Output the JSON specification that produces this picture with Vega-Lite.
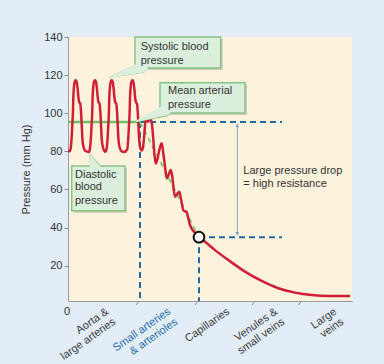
{
  "$schema": "https://vega.github.io/schema/vega-lite/v6.json",
  "width": 284,
  "height": 264,
  "autosize": "none",
  "padding": {"left": 68, "top": 37, "right": 32, "bottom": 63},
  "background": "#e2edf7",
  "config": {
    "view": {"stroke": null, "fill": "#fdf3dd"},
    "font": "Liberation Sans",
    "axis": {"labelFont": "Liberation Sans", "titleFont": "Liberation Sans", "grid": false}
  },
  "encoding": {
    "x": {"field": "x", "type": "quantitative", "scale": {"domain": [0, 284], "nice": false, "zero": false},
      "axis": {"title": null, "labels": false, "ticks": false, "domainColor": "#9a9a9a"}},
    "y": {"field": "y", "type": "quantitative", "scale": {"domain": [1.5, 140], "nice": false, "zero": false},
      "axis": {"title": "Pressure (mm Hg)", "values": [20, 40, 60, 80, 100, 120, 140], "tickSize": 4, "labelPadding": 2,
        "labelFontSize": 11, "labelColor": "#333333", "tickColor": "#8a8a8a", "domainColor": "#9a9a9a",
        "titleFontSize": 11, "titleFontWeight": "normal", "titleColor": "#333333", "titlePadding": 12}}
  },
  "layer": [
    {
      "data": {"values": [
        {"x": 0, "y": 80}, {"x": 1.5, "y": 80}, {"x": 2.5, "y": 81}, {"x": 3.6, "y": 87}, {"x": 4.3, "y": 94}, {"x": 4.9, "y": 100}, {"x": 5.3, "y": 108}, {"x": 5.9, "y": 113.5}, {"x": 6.7, "y": 116.5}, {"x": 7.7, "y": 117.3}, {"x": 8.7, "y": 116.5}, {"x": 9.6, "y": 113}, {"x": 10.4, "y": 108.5}, {"x": 11.2, "y": 105.8}, {"x": 12.2, "y": 105}, {"x": 13, "y": 101}, {"x": 13.7, "y": 94}, {"x": 14.5, "y": 86}, {"x": 15.7, "y": 82}, {"x": 17.3, "y": 80.2}, {"x": 21, "y": 79.7},
        {"x": 21.8, "y": 81}, {"x": 22.9, "y": 87}, {"x": 23.6, "y": 94}, {"x": 24.2, "y": 100}, {"x": 24.6, "y": 108}, {"x": 25.2, "y": 113.5}, {"x": 26, "y": 116.5}, {"x": 27, "y": 117.3}, {"x": 28, "y": 116.5}, {"x": 28.9, "y": 113}, {"x": 29.7, "y": 108.5}, {"x": 30.5, "y": 105.8}, {"x": 31.5, "y": 105}, {"x": 32.3, "y": 101}, {"x": 33, "y": 94}, {"x": 33.8, "y": 86}, {"x": 35, "y": 82}, {"x": 36.4, "y": 80.2}, {"x": 37.5, "y": 79.8},
        {"x": 38.5, "y": 81}, {"x": 39.6, "y": 87}, {"x": 40.3, "y": 94}, {"x": 40.9, "y": 100}, {"x": 41.3, "y": 108}, {"x": 41.9, "y": 113.5}, {"x": 42.7, "y": 116.5}, {"x": 43.7, "y": 117.3}, {"x": 44.7, "y": 116.5}, {"x": 45.6, "y": 113}, {"x": 46.4, "y": 108.5}, {"x": 47.2, "y": 105.8}, {"x": 48.2, "y": 105}, {"x": 49, "y": 101}, {"x": 49.7, "y": 94}, {"x": 50.5, "y": 86}, {"x": 51.7, "y": 82}, {"x": 53.3, "y": 80.2}, {"x": 56, "y": 79.7},
        {"x": 59.2, "y": 81}, {"x": 60.3, "y": 87}, {"x": 61, "y": 94}, {"x": 61.6, "y": 100}, {"x": 62, "y": 108}, {"x": 62.6, "y": 113.5}, {"x": 63.4, "y": 116.5}, {"x": 64.4, "y": 117.3}, {"x": 65.4, "y": 116.5}, {"x": 66.3, "y": 113}, {"x": 67.1, "y": 108.5}, {"x": 67.9, "y": 105.8}, {"x": 68.9, "y": 105}, {"x": 69.7, "y": 101}, {"x": 70.4, "y": 94}, {"x": 71.2, "y": 86}, {"x": 72.2, "y": 82}, {"x": 73.7, "y": 80.4}, {"x": 75, "y": 82},
        {"x": 76.5, "y": 90}, {"x": 77.7, "y": 97}, {"x": 79.7, "y": 95.6}, {"x": 82.7, "y": 97.3}, {"x": 84, "y": 94}, {"x": 85.5, "y": 85}, {"x": 86.5, "y": 78}, {"x": 87.7, "y": 73.7}, {"x": 89, "y": 75}, {"x": 91, "y": 80}, {"x": 93.7, "y": 84.2}, {"x": 95.3, "y": 79}, {"x": 97, "y": 72}, {"x": 98.7, "y": 65.9}, {"x": 100.5, "y": 67.5}, {"x": 102.7, "y": 70.2}, {"x": 104.5, "y": 66}, {"x": 105.5, "y": 61}, {"x": 107, "y": 56.2}, {"x": 109, "y": 57.5}, {"x": 111.3, "y": 58.8}, {"x": 113, "y": 55}, {"x": 115.3, "y": 49.2}, {"x": 117, "y": 48.5}, {"x": 118.7, "y": 48.3}, {"x": 120, "y": 45.5}, {"x": 122, "y": 41.4}, {"x": 125, "y": 38.5}, {"x": 128.7, "y": 36.5}, {"x": 131, "y": 34.9},
        {"x": 137, "y": 32.6}, {"x": 147, "y": 28.2}, {"x": 160.3, "y": 23}, {"x": 177, "y": 16.9}, {"x": 193.7, "y": 12}, {"x": 210.3, "y": 8.2}, {"x": 227, "y": 5.9}, {"x": 243.7, "y": 4.6}, {"x": 260.3, "y": 4.1}, {"x": 282, "y": 4.1}
      ]},
      "layer": [
        {
          "data": {"values": [
            {"x": 72, "y": 95.4, "x2": 214, "y2": 95.4},
            {"x": 72, "y": 95.4, "x2": 72, "y2": 1.5},
            {"x": 131, "y": 35, "x2": 214, "y2": 35},
            {"x": 131, "y": 35, "x2": 131, "y2": 1.5}
          ]},
          "mark": {"type": "rule", "color": "#2268a3", "strokeWidth": 2, "strokeDash": [6, 4]},
          "encoding": {"x2": {"field": "x2"}, "y2": {"field": "y2"}}
        },
        {
          "data": {"values": [{"x": 0, "y": 95.4, "x2": 72, "y2": 95.4}]},
          "mark": {"type": "rule", "color": "#6cc26c", "strokeWidth": 2.5},
          "encoding": {"x2": {"field": "x2"}, "y2": {"field": "y2"}}
        },
        {
          "data": {"values": [{"x": 72, "y": 95.4, "x2": 131, "y2": 35}]},
          "mark": {"type": "rule", "color": "#7fd07f", "strokeWidth": 2, "strokeDash": [5, 4]},
          "encoding": {"x2": {"field": "x2"}, "y2": {"field": "y2"}}
        },
        {
          "data": {"values": [{"x": 169.3, "y": 94.5, "x2": 169.3, "y2": 36}]},
          "mark": {"type": "rule", "color": "#7b9ec0", "strokeWidth": 1},
          "encoding": {"x2": {"field": "x2"}, "y2": {"field": "y2"}}
        },
        {
          "data": {"values": [{"x": 169.3, "y": 93.6, "dir": "up"}, {"x": 169.3, "y": 36.8, "dir": "down"}]},
          "mark": {"type": "point", "filled": true, "color": "#7b9ec0", "size": 14, "opacity": 1},
          "encoding": {"shape": {"field": "dir", "type": "nominal", "scale": {"domain": ["up", "down"], "range": ["triangle-up", "triangle-down"]}, "legend": null}}
        },
        {
          "mark": {"type": "line", "color": "#d01f35", "strokeWidth": 2.5, "interpolate": "monotone"}
        },
        {
          "data": {"values": [{"x": 131, "y": 35}]},
          "mark": {"type": "point", "filled": true, "fill": "#ffffff", "stroke": "#111111", "strokeWidth": 2, "size": 115, "opacity": 1}
        },
        {
          "data": {"values": [
            {"id": "s", "x": 74, "y": 124, "t": 1}, {"id": "s", "x": 42, "y": 118.9, "t": 0},
            {"id": "m", "x": 97, "y": 101, "t": 1}, {"id": "m", "x": 67.5, "y": 95.6, "t": 0},
            {"id": "d", "x": 27, "y": 71.8, "t": 1}, {"id": "d", "x": 22, "y": 78.4, "t": 0}
          ]},
          "mark": {"type": "trail", "color": "#86c486"},
          "encoding": {
            "detail": {"field": "id"},
            "order": {"field": "t", "type": "quantitative"},
            "size": {"field": "t", "type": "quantitative", "scale": {"domain": [0, 1], "range": [1.2, 11]}, "legend": null}
          }
        },
        {
          "data": {"values": [
            {"x": 67, "x2": 152.7, "y": 123.7, "y2": 140},
            {"x": 92, "x2": 177, "y": 100.1, "y2": 116},
            {"x": 3.7, "x2": 57, "y": 48.9, "y2": 72.3}
          ]},
          "layer": [
            {"mark": {"type": "rect", "fill": "#9a9a88", "opacity": 0.45, "xOffset": 2, "x2Offset": 2, "yOffset": 2, "y2Offset": 2},
             "encoding": {"x2": {"field": "x2"}, "y2": {"field": "y2"}}},
            {"mark": {"type": "rect", "fill": "#dbefdc", "stroke": "#86c486", "strokeWidth": 1.5},
             "encoding": {"x2": {"field": "x2"}, "y2": {"field": "y2"}}}
          ]
        },
        {
          "data": {"values": [
            {"id": "s", "x": 74.5, "y": 124.3, "t": 1}, {"id": "s", "x": 43, "y": 119, "t": 0},
            {"id": "m", "x": 97.5, "y": 101.6, "t": 1}, {"id": "m", "x": 68.5, "y": 95.8, "t": 0},
            {"id": "d", "x": 27, "y": 71.2, "t": 1}, {"id": "d", "x": 22.3, "y": 77.8, "t": 0}
          ]},
          "mark": {"type": "trail", "color": "#dbefdc"},
          "encoding": {
            "detail": {"field": "id"},
            "order": {"field": "t", "type": "quantitative"},
            "size": {"field": "t", "type": "quantitative", "scale": {"domain": [0, 1], "range": [0.3, 8.5]}, "legend": null}
          }
        },
        {
          "data": {"values": [
            {"x": 72.7, "y": 134.8, "text": "Systolic blood"},
            {"x": 72.7, "y": 127.6, "text": "pressure"},
            {"x": 100, "y": 111.8, "text": "Mean arterial"},
            {"x": 100, "y": 104.3, "text": "pressure"},
            {"x": 7, "y": 67.6, "text": "Diastolic"},
            {"x": 7, "y": 61.2, "text": "blood"},
            {"x": 7, "y": 54.1, "text": "pressure"},
            {"x": 175.3, "y": 69.7, "text": "Large pressure drop"},
            {"x": 175.3, "y": 62.9, "text": "= high resistance"}
          ]},
          "mark": {"type": "text", "align": "left", "baseline": "middle", "fontSize": 11, "color": "#333333", "font": "Liberation Sans"},
          "encoding": {"text": {"field": "text"}}
        },
        {
          "data": {"values": [
            {"x": 71, "y": 1.5, "x2": 68, "y2": -0.6},
            {"x": 130, "y": 1.5, "x2": 127, "y2": -0.6},
            {"x": 187, "y": 1.5, "x2": 184, "y2": -0.6},
            {"x": 233.5, "y": 1.5, "x2": 230.5, "y2": -0.6}
          ]},
          "mark": {"type": "rule", "color": "#8a8a8a", "strokeWidth": 1},
          "encoding": {"x2": {"field": "x2"}, "y2": {"field": "y2"}}
        },
        {
          "data": {"values": [
            {"x": 36, "y": -1, "text": "Aorta &\nlarge arteries"},
            {"x": 98, "y": -1, "text": "Small arteries\n& arterioles"},
            {"x": 157, "y": -1, "text": "Capillaries"},
            {"x": 205, "y": -1, "text": "Venules &\nsmall veins"},
            {"x": 264, "y": -1, "text": "Large\nveins"}
          ]},
          "mark": {"type": "text", "align": "right", "baseline": "top", "angle": -35, "fontSize": 11, "lineBreak": "\n", "lineHeight": 12.5, "font": "Liberation Sans"},
          "encoding": {
            "text": {"field": "text"},
            "color": {"condition": {"test": "indexof(datum.text, 'Small') == 0", "value": "#2b6ca8"}, "value": "#3a3a3a"}
          }
        },
        {
          "data": {"values": [{"x": -1, "y": -4.1, "text": "0"}]},
          "mark": {"type": "text", "align": "center", "baseline": "middle", "fontSize": 11, "color": "#333333", "font": "Liberation Sans"},
          "encoding": {"text": {"field": "text"}}
        }
      ]
    }
  ]
}
